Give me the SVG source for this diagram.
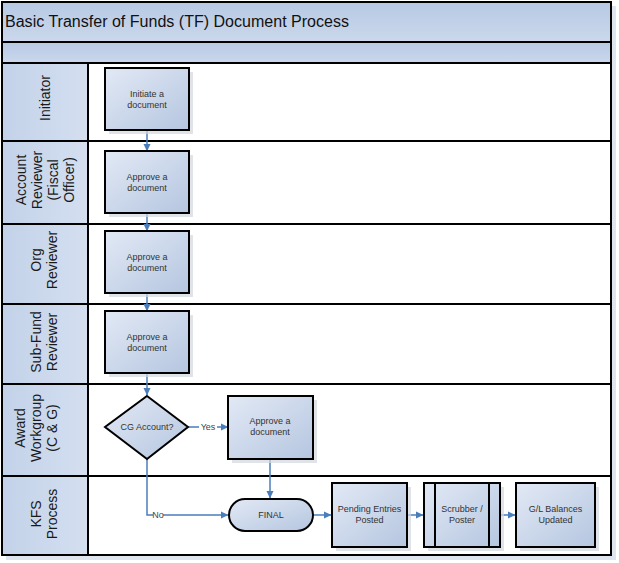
<svg xmlns="http://www.w3.org/2000/svg" width="619" height="563" viewBox="0 0 619 563">
<defs>
<linearGradient id="boxg" x1="0" y1="0" x2="1" y2="1">
<stop offset="0" stop-color="#e2e9f5"/>
<stop offset="1" stop-color="#b5c6e0"/>
</linearGradient>
<linearGradient id="bandg" x1="0" y1="0" x2="0" y2="1">
<stop offset="0" stop-color="#b7c9e4"/>
<stop offset="1" stop-color="#cbd8ec"/>
</linearGradient>
<linearGradient id="laneg" x1="0" y1="0" x2="1" y2="0">
<stop offset="0" stop-color="#c3d2e9"/>
<stop offset="1" stop-color="#d4dff0"/>
</linearGradient>
<marker id="arr" markerWidth="8" markerHeight="8" refX="7" refY="4" orient="auto" markerUnits="userSpaceOnUse">
<path d="M0,0.5 L7.5,4 L0,7.5 Z" fill="#4a7ebb"/>
</marker>
</defs>
<style>
.lanebg{fill:url(#laneg);stroke:#000;stroke-width:2}
.lanebody{fill:#fff;stroke:#000;stroke-width:2}
.box{fill:url(#boxg);stroke:#000;stroke-width:2}
.shadow{fill:#d3d8e0;opacity:0.7}
.ntext{font-family:"Liberation Sans",Arial,sans-serif;font-size:9px;fill:#333;text-anchor:middle}
.ltext{font-family:"Liberation Sans",Arial,sans-serif;font-size:14px;fill:#1a1a1a;text-anchor:middle}
.conn{fill:none;stroke:#4a7ebb;stroke-width:1.5}
.elabel{font-family:"Liberation Sans",Arial,sans-serif;font-size:9px;fill:#444;text-anchor:middle}
</style>
<rect x="0" y="0" width="619" height="563" fill="#fff"/>
<rect x="6" y="6" width="610" height="554" fill="#dfe5ee"/>
<g id="title">
<rect x="2" y="2" width="609" height="40" fill="url(#bandg)" stroke="#000" stroke-width="2"/>
<text x="5" y="27" font-family="'Liberation Sans',Arial,sans-serif" font-size="16px" fill="#111" textLength="344" lengthAdjust="spacingAndGlyphs">Basic Transfer of Funds (TF) Document Process</text>
</g>
<g id="subband">
<rect x="2" y="42" width="609" height="21" fill="url(#bandg)" stroke="#000" stroke-width="2"/>
</g>
<g id="lanes">
<g id="lane-initiator">
<rect class="lanebody" x="88" y="63" width="523" height="78"/>
<rect class="lanebg" x="2" y="63" width="86" height="78"/>
<text class="ltext" transform="translate(45,98) rotate(-90)" y="5">Initiator</text>
</g>
<g id="lane-account">
<rect class="lanebody" x="88" y="141" width="523" height="83"/>
<rect class="lanebg" x="2" y="141" width="86" height="83"/>
<text class="ltext" transform="translate(45,180) rotate(-90)"><tspan x="0" y="-19">Account</tspan><tspan x="0" y="-3">Reviewer</tspan><tspan x="0" y="13">(Fiscal</tspan><tspan x="0" y="29">Officer)</tspan></text>
</g>
<g id="lane-org">
<rect class="lanebody" x="88" y="224" width="523" height="80"/>
<rect class="lanebg" x="2" y="224" width="86" height="80"/>
<text class="ltext" transform="translate(45,260) rotate(-90)"><tspan x="0" y="-4">Org</tspan><tspan x="0" y="12">Reviewer</tspan></text>
</g>
<g id="lane-subfund">
<rect class="lanebody" x="88" y="304" width="523" height="80"/>
<rect class="lanebg" x="2" y="304" width="86" height="80"/>
<text class="ltext" transform="translate(45,342) rotate(-90)"><tspan x="0" y="-4">Sub-Fund</tspan><tspan x="0" y="12">Reviewer</tspan></text>
</g>
<g id="lane-award">
<rect class="lanebody" x="88" y="384" width="523" height="92"/>
<rect class="lanebg" x="2" y="384" width="86" height="92"/>
<text class="ltext" transform="translate(45,428) rotate(-90)"><tspan x="0" y="-20">Award</tspan><tspan x="0" y="-4">Workgroup</tspan><tspan x="0" y="12">(C &amp; G)</tspan></text>
</g>
<g id="lane-kfs">
<rect class="lanebody" x="88" y="476" width="523" height="79"/>
<rect class="lanebg" x="2" y="476" width="86" height="79"/>
<text class="ltext" transform="translate(45,514) rotate(-90)"><tspan x="0" y="-4">KFS</tspan><tspan x="0" y="12">Process</tspan></text>
</g>
</g>
<g id="connectors">
<line class="conn" x1="147" y1="130" x2="147" y2="151" marker-end="url(#arr)"/>
<line class="conn" x1="147" y1="213" x2="147" y2="231" marker-end="url(#arr)"/>
<line class="conn" x1="147" y1="293" x2="147" y2="311" marker-end="url(#arr)"/>
<line class="conn" x1="147" y1="373" x2="147" y2="395" marker-end="url(#arr)"/>
<path class="conn" d="M188,427 H199 M217,427 H228" marker-end="url(#arr)"/>
<text class="elabel" x="208" y="430">Yes</text>
<path class="conn" d="M147,459 V515 H153 M163,515 H228" marker-end="url(#arr)"/>
<text class="elabel" x="158" y="518">No</text>
<line class="conn" x1="270" y1="459" x2="270" y2="498" marker-end="url(#arr)"/>
<line class="conn" x1="314" y1="515" x2="331" y2="515" marker-end="url(#arr)"/>
<line class="conn" x1="408" y1="515" x2="423" y2="515" marker-end="url(#arr)"/>
<line class="conn" x1="501" y1="515" x2="515" y2="515" marker-end="url(#arr)"/>
</g>
<g id="n-initiate">
<rect class="shadow" x="109" y="72" width="84" height="62"/>
<rect class="box" x="105" y="68" width="84" height="62"/>
<text class="ntext" x="147" y="97">Initiate a</text>
<text class="ntext" x="147" y="108">document</text>
</g>
<g id="n-approve-account">
<rect class="shadow" x="109" y="155" width="84" height="62"/>
<rect class="box" x="105" y="151" width="84" height="62"/>
<text class="ntext" x="147" y="180">Approve a</text>
<text class="ntext" x="147" y="191">document</text>
</g>
<g id="n-approve-org">
<rect class="shadow" x="109" y="235" width="84" height="62"/>
<rect class="box" x="105" y="231" width="84" height="62"/>
<text class="ntext" x="147" y="260">Approve a</text>
<text class="ntext" x="147" y="271">document</text>
</g>
<g id="n-approve-subfund">
<rect class="shadow" x="109" y="315" width="84" height="62"/>
<rect class="box" x="105" y="311" width="84" height="62"/>
<text class="ntext" x="147" y="340">Approve a</text>
<text class="ntext" x="147" y="351">document</text>
</g>
<g id="n-cg-decision">
<path class="box" d="M147,396 L188,427 L147,459 L105,427 Z"/>
<text class="ntext" x="147" y="430">CG Account?</text>
</g>
<g id="n-approve-award">
<rect class="shadow" x="232" y="400" width="85" height="63"/>
<rect class="box" x="228" y="396" width="85" height="63"/>
<text class="ntext" x="270" y="424">Approve a</text>
<text class="ntext" x="270" y="435">document</text>
</g>
<g id="n-final">
<rect class="box" x="229" y="499" width="84" height="32" rx="16" ry="16"/>
<text class="ntext" x="271" y="518">FINAL</text>
</g>
<g id="n-pending">
<rect class="shadow" x="336" y="487" width="75" height="64"/>
<rect class="box" x="332" y="483" width="75" height="64"/>
<text class="ntext" x="369.5" y="512">Pending Entries</text>
<text class="ntext" x="369.5" y="523">Posted</text>
</g>
<g id="n-scrubber">
<rect class="shadow" x="428" y="487" width="76" height="64"/>
<rect class="box" x="424" y="483" width="76" height="64"/>
<line x1="435" y1="483" x2="435" y2="547" stroke="#000" stroke-width="2"/>
<line x1="489" y1="483" x2="489" y2="547" stroke="#000" stroke-width="2"/>
<text class="ntext" x="462" y="512">Scrubber /</text>
<text class="ntext" x="462" y="523">Poster</text>
</g>
<g id="n-gl">
<rect class="shadow" x="520" y="487" width="79" height="64"/>
<rect class="box" x="516" y="483" width="79" height="64"/>
<text class="ntext" x="555.5" y="512">G/L Balances</text>
<text class="ntext" x="555.5" y="523">Updated</text>
</g>
</svg>
